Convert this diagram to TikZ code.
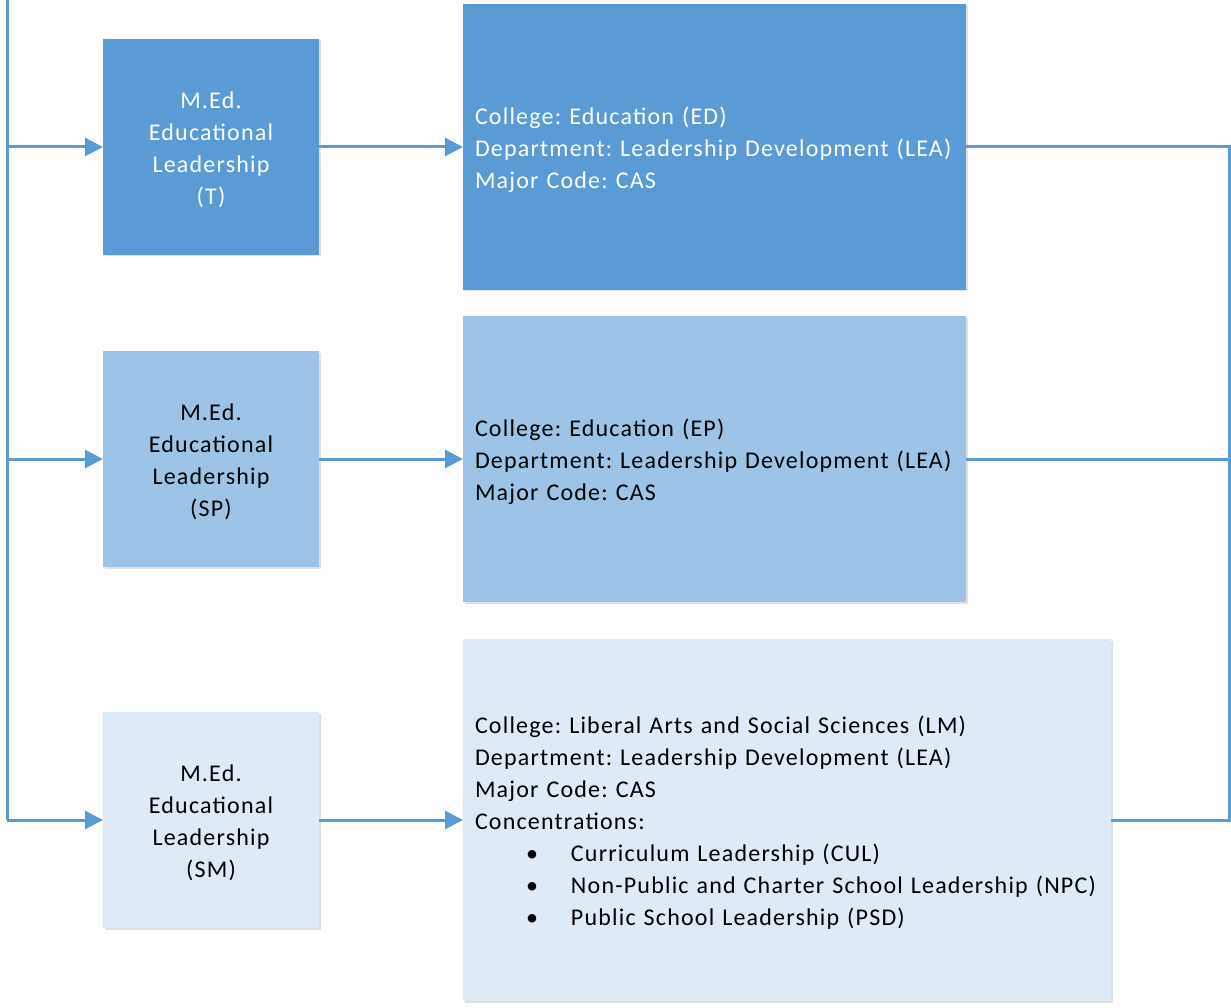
\documentclass[tikz,border=0pt]{standalone}
\usepackage{fontspec}
\setmainfont{Carlito}[LetterSpace=5]
\usetikzlibrary{arrows.meta,shadows}
\definecolor{cA}{HTML}{5B9BD5}
\definecolor{cB}{HTML}{9DC3E6}
\definecolor{cC}{HTML}{DEEBF7}
\definecolor{lineblue}{HTML}{5B9BD5}
\newcommand{\firstup}{\rule{0pt}{23pt}}
\tikzset{
  boxbase/.style={rectangle, anchor=north west, inner sep=0pt, outer sep=0pt,
    font=\fontsize{24}{32}\selectfont\frenchspacing,
    drop shadow={shadow xshift=1.5pt, shadow yshift=-1.5pt, opacity=0.12, fill=black}},
  lbox/.style={boxbase, minimum width=216pt, minimum height=216pt, align=center, text width=216pt},
  rbox/.style={boxbase, align=left, inner xsep=12pt},
  conn/.style={draw=lineblue, line width=3pt},
  arr/.style={conn, -{Triangle[length=18pt,width=18pt]}},
}
\begin{document}
\begin{tikzpicture}[x=1pt,y=-1pt]
\useasboundingbox (0,0) rectangle (1231,1008);
\fill[white] (0,0) rectangle (1231,1008);

\node[lbox, fill=cA, text=white] (a1) at (103,39) {\firstup M.Ed.\\Educational\\Leadership\\(T)};
\node[lbox, fill=cB, text=black] (a2) at (103,351) {\firstup M.Ed.\\Educational\\Leadership\\(SP)};
\node[lbox, fill=cC, text=black] (a3) at (103,712) {\firstup M.Ed.\\Educational\\Leadership\\(SM)};

\node[rbox, fill=cA, text=white, minimum width=503pt, minimum height=286pt, text width=479pt] (b1) at (463,4)
  {\firstup College: Education (ED)\\Department: Leadership Development (LEA)\\Major Code: CAS};
\node[rbox, fill=cB, text=black, minimum width=503pt, minimum height=286pt, text width=479pt] (b2) at (463,316)
  {\firstup College: Education (EP)\\Department: Leadership Development (LEA)\\Major Code: CAS};
\node[rbox, fill=cC, text=black, minimum width=648pt, minimum height=362pt, text width=624pt] (b3) at (463,639)
  {\firstup College: Liberal Arts and Social Sciences (LM)\\Department: Leadership Development (LEA)\\Major Code: CAS\\Concentrations:\\
   \makebox[96pt][l]{\hspace{51pt}\textbullet}Curriculum Leadership (CUL)\\
   \makebox[96pt][l]{\hspace{51pt}\textbullet}Non-Public and Charter School Leadership (NPC)\\
   \makebox[96pt][l]{\hspace{51pt}\textbullet}Public School Leadership (PSD)};

\coordinate (ltop) at (7,0);
\coordinate (rc) at (1229,500);

\draw[conn] (ltop) -- (ltop |- a3.west);
\draw[arr] (ltop |- a1.west) -- (a1.west);
\draw[arr] (ltop |- a2.west) -- (a2.west);
\draw[arr] (ltop |- a3.west) -- (a3.west);

\draw[arr] (a1.east) -- (b1.west);
\draw[arr] (a2.east) -- (b2.west);
\draw[arr] (a3.east) -- (b3.west);

\draw[conn] (b1.east) -| (rc) |- (b3.east);
\draw[conn] (b2.east) -- (rc |- b2.east);
\end{tikzpicture}
\end{document}
